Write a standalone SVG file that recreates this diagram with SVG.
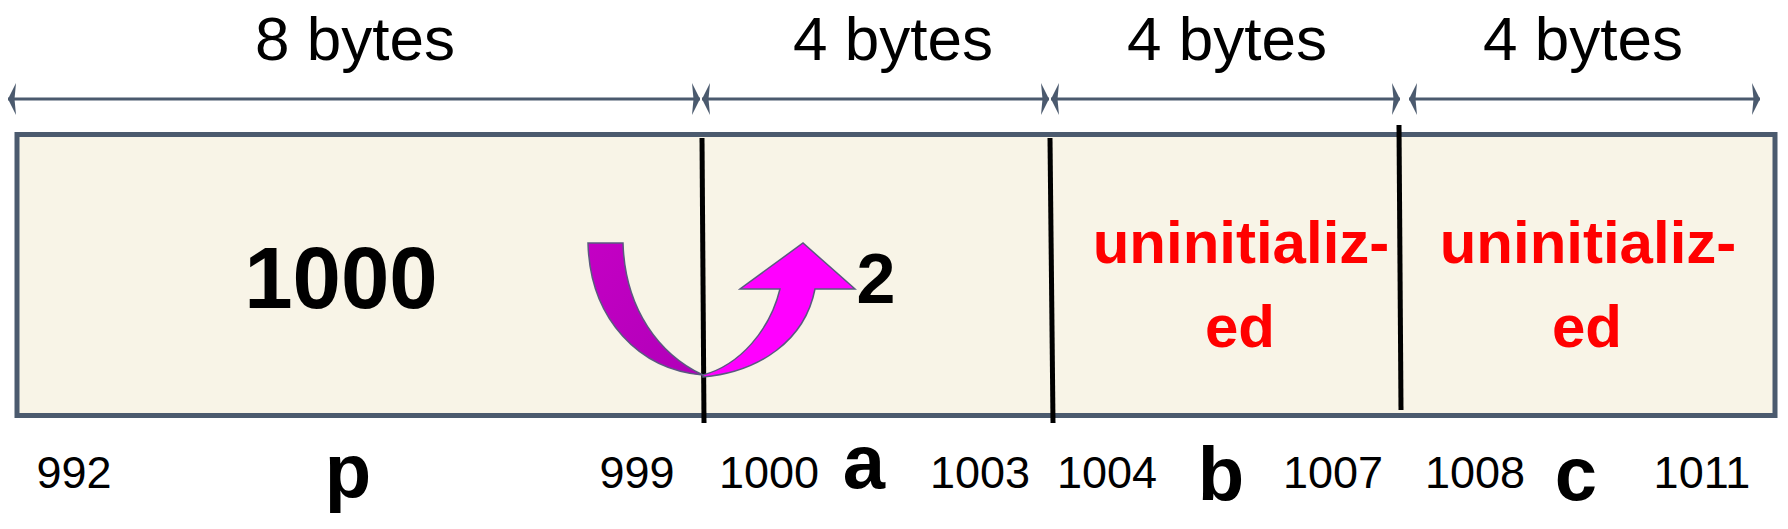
<svg xmlns="http://www.w3.org/2000/svg" width="1788" height="529" viewBox="0 0 1788 529">
<defs>
<marker id="ah" markerUnits="userSpaceOnUse" viewBox="0 0 8 32" markerWidth="8" markerHeight="32" refX="8" refY="16" orient="auto-start-reverse">
<path d="M0,0 L8,16 L0,32 L1.5,16 Z" fill="#4b5a6e"/>
</marker>
<linearGradient id="gl" x1="0" y1="0" x2="1" y2="1">
<stop offset="0" stop-color="#c400c4"/>
<stop offset="1" stop-color="#b000b8"/>
</linearGradient>
</defs>
<style>
text{font-family:"Liberation Sans",Arial,sans-serif;text-anchor:middle;fill:#000}
.dim{font-size:62px}
.num{font-size:45px}
.lbl{font-size:76px;font-weight:bold}
.red{font-size:60px;font-weight:bold;fill:#ff0000}
.dl{stroke:#4b5a6e;stroke-width:3;fill:none;marker-start:url(#ah);marker-end:url(#ah)}
.div{stroke:#000;stroke-width:5}
</style>
<rect width="1788" height="529" fill="#ffffff"/>
<g id="memory">
<rect x="17" y="134.5" width="1758" height="281" fill="#f8f4e7" stroke="#4b5a6e" stroke-width="5"/>
</g>
<g id="connectors">
<line class="dl" x1="8" y1="99" x2="700" y2="99"/>
<line class="dl" x1="702" y1="99" x2="1049" y2="99"/>
<line class="dl" x1="1051" y1="99" x2="1400" y2="99"/>
<line class="dl" x1="1409" y1="99" x2="1760" y2="99"/>
<line class="div" x1="702" y1="138" x2="704" y2="423"/>
<line class="div" x1="1050" y1="138" x2="1053" y2="423"/>
<line class="div" x1="1399" y1="125" x2="1401" y2="410"/>
</g>
<g id="sizes">
<text class="dim" x="355" y="60">8 bytes</text>
<text class="dim" x="893" y="60">4 bytes</text>
<text class="dim" x="1227" y="60">4 bytes</text>
<text class="dim" x="1583" y="60">4 bytes</text>
</g>
<g id="p">
<text x="341" y="308" style="font-size:87px;font-weight:bold">1000</text>
<text class="lbl" x="348" y="497">p</text>
<text class="num" x="74" y="488">992</text>
<text class="num" x="637" y="488">999</text>
</g>
<g id="arrow">
<path d="M588,243 L623,243 C625,310 660,355 703,375 C640,370 590,320 588,243 Z" fill="url(#gl)" stroke="#5a5a80" stroke-width="1.5"/>
<path d="M703,377 C760,372 805,340 815,289 L855,289 L803,243 L740,289 L780,289 C770,330 740,365 703,375 Z" fill="#ff00ff" stroke="#5a5a80" stroke-width="1.5"/>
</g>
<g id="a">
<text x="876" y="303" style="font-size:70px;font-weight:bold">2</text>
<text class="lbl" x="864" y="488">a</text>
<text class="num" x="769" y="488">1000</text>
<text class="num" x="980" y="488">1003</text>
</g>
<g id="b">
<text class="red" x="1241" y="263">uninitializ-</text>
<text class="red" x="1240" y="347">ed</text>
<text class="lbl" x="1221" y="500">b</text>
<text class="num" x="1107" y="488">1004</text>
<text class="num" x="1333" y="488">1007</text>
</g>
<g id="c">
<text class="red" x="1588" y="263">uninitializ-</text>
<text class="red" x="1587" y="347">ed</text>
<text class="lbl" x="1576" y="500">c</text>
<text class="num" x="1475" y="488">1008</text>
<text class="num" x="1702" y="488">1011</text>
</g>
</svg>
